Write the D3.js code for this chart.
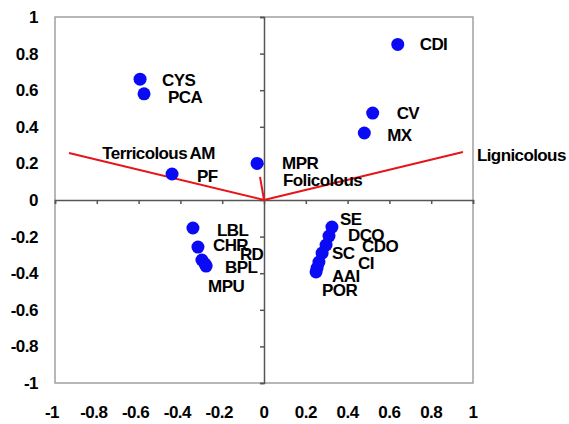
<!DOCTYPE html>
<html>
<head>
<meta charset="utf-8">
<script src="https://cdn.jsdelivr.net/npm/d3@7"></script>
<style>
  body { margin: 0; background: #fff; }
  text { font-family: "Liberation Sans", Arial, sans-serif; font-weight: bold; }
</style>
</head>
<body>
<div id="chart"></div>
<script>
// species scores
const species = ["CDI", "CV", "MX", "CYS", "PCA", "PF", "MPR",
                 "LBL", "CHR", "RD", "BPL", "MPU",
                 "SE", "DCO", "CDO", "SC", "CI", "AAI", "POR"];
const speciesX = [0.64, 0.52, 0.48, -0.593, -0.574, -0.44, -0.033,
                  -0.34, -0.316, -0.297, -0.282, -0.277,
                  0.325, 0.311, 0.297, 0.278, 0.263, 0.254, 0.249];
const speciesY = [0.85, 0.475, 0.366, 0.66, 0.58, 0.142, 0.20,
                  -0.153, -0.257, -0.328, -0.35, -0.361,
                  -0.148, -0.197, -0.246, -0.29, -0.339, -0.372, -0.393];

// substrate vectors
const vectors = ["Terricolous", "Lignicolous", "Folicolous"];
const vectorX = [-0.933, 0.952, -0.019];
const vectorY = [0.257, 0.262, 0.126];

// stray label with no marker
const extraLabels = ["AM"];
const extraX = [-0.356];
const extraY = [0.257];

const tickValues = [-1, -0.8, -0.6, -0.4, -0.2, 0, 0.2, 0.4, 0.6, 0.8, 1];

// label nudges in px (hand placed to avoid overlap, like the original)
const labelNudge = {
  CDI: [22, 0], CV: [24, 0], MX: [23, 2], CYS: [22, 1], PCA: [24, 3], PF: [25, 2], MPR: [25, 0],
  LBL: [24, 2], CHR: [15, -2], RD: [38, -6], BPL: [20, 3], MPU: [2, 20],
  SE: [8, -8], DCO: [19, -1], CDO: [36, 1], SC: [10, 0], CI: [39, 1], AAI: [15, 8], POR: [6, 18]
};
const vectorNudge = { Terricolous: [118, 0, "end"], Lignicolous: [14, 3, "start"], Folicolous: [23, 3, "start"] };

const W = 569, H = 424;
const x = d3.scaleLinear().domain([-1, 1]).range([55, 473]);
const y = d3.scaleLinear().domain([-1, 1]).range([383, 17]);

const svg = d3.select("#chart").append("svg")
  .attr("width", W)
  .attr("height", H);

// plot frame
svg.append("rect")
  .attr("x", x(-1)).attr("y", y(1))
  .attr("width", x(1) - x(-1)).attr("height", y(-1) - y(1))
  .attr("fill", "none").attr("stroke", "#a0a0a0").attr("stroke-width", 1.5);

// axes through origin
const xAxis = d3.axisBottom(x).tickValues(tickValues).tickSize(4).tickFormat("");
const yAxis = d3.axisLeft(y).tickValues(tickValues).tickSize(4).tickFormat("");

const gx = svg.append("g").attr("transform", "translate(0," + y(0) + ")").call(xAxis);
const gy = svg.append("g").attr("transform", "translate(" + x(0) + ",0)").call(yAxis);
[gx, gy].forEach(g => {
  g.select(".domain").attr("stroke", "#555").attr("stroke-width", 1.5);
  g.selectAll(".tick line").attr("stroke", "#555").attr("stroke-width", 1.5);
});

// outer tick labels
svg.append("g").selectAll("text")
  .data(tickValues)
  .enter().append("text")
  .attr("x", 38)
  .attr("y", d => y(d))
  .attr("dy", "0.35em")
  .attr("text-anchor", "end")
  .attr("font-size", 17)
  .attr("letter-spacing", -0.5)
  .text(d => d);

svg.append("g").selectAll("text")
  .data(tickValues)
  .enter().append("text")
  .attr("x", d => x(d) + (d < 0 ? -3 : 0))
  .attr("y", 412)
  .attr("dy", "0.35em")
  .attr("text-anchor", "middle")
  .attr("font-size", 17)
  .attr("letter-spacing", -0.5)
  .text(d => d);

// substrate vectors
const vg = svg.append("g");
vectors.forEach((v, i) => {
  vg.append("line")
    .attr("x1", x(0)).attr("y1", y(0))
    .attr("x2", x(vectorX[i])).attr("y2", y(vectorY[i]))
    .attr("stroke", "#e8141c").attr("stroke-width", 2);
});
vectors.forEach((v, i) => {
  const n = vectorNudge[v];
  vg.append("text")
    .attr("x", x(vectorX[i]) + n[0])
    .attr("y", y(vectorY[i]) + n[1])
    .attr("dy", "0.35em")
    .attr("text-anchor", n[2])
    .attr("font-size", 17)
    .attr("letter-spacing", -0.6)
    .text(v);
});

// species points
svg.append("g").selectAll("circle")
  .data(species)
  .enter().append("circle")
  .attr("cx", (d, i) => x(speciesX[i]))
  .attr("cy", (d, i) => y(speciesY[i]))
  .attr("r", 6.5)
  .attr("fill", "#0a0af5");

svg.append("g").selectAll("text")
  .data(species)
  .enter().append("text")
  .attr("x", (d, i) => x(speciesX[i]) + labelNudge[d][0])
  .attr("y", (d, i) => y(speciesY[i]) + labelNudge[d][1])
  .attr("dy", "0.35em")
  .attr("font-size", 17)
  .attr("letter-spacing", -0.6)
  .text(d => d);

svg.append("g").selectAll("text")
  .data(extraLabels)
  .enter().append("text")
  .attr("x", (d, i) => x(extraX[i]))
  .attr("y", (d, i) => y(extraY[i]))
  .attr("dy", "0.35em")
  .attr("font-size", 17)
  .attr("letter-spacing", -0.6)
  .text(d => d);
</script>
</body>
</html>
